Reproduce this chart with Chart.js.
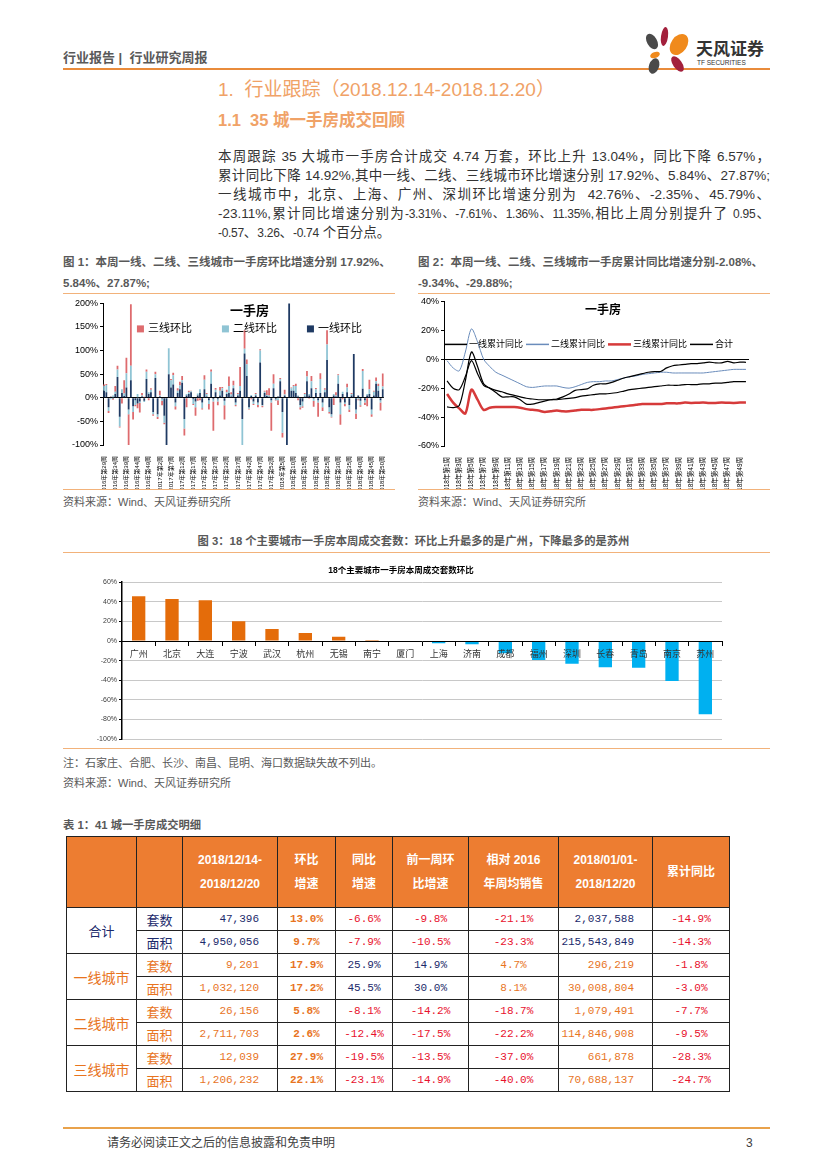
<!DOCTYPE html>
<html lang="zh-CN">
<head>
<meta charset="utf-8">
<title>行业研究周报</title>
<script src="https://cdn.jsdelivr.net/npm/chart.js@4.4.1/dist/chart.umd.min.js"></script>
<style>
  body { margin: 0; background: #fff; }
  #page { position: relative; width: 827px; height: 1169px; overflow: hidden; background: #fff;
          font-family: 'Liberation Sans', 'Noto Sans CJK SC', sans-serif; color: #404040; }
  .t { position: absolute; white-space: nowrap; line-height: 1; }
  .rule { position: absolute; height: 0; }
  .cap { font-size: 11.3px; font-weight: bold; color: #595959; }
  .cap2 { font-size: 11.5px; }
  .src { font-size: 11px; color: #595959; }
  .body { position: absolute; left: 218px; width: 552px; font-size: 13.5px; color: #333; line-height: 1; }
  .body div { position: absolute; left: 0; width: 552px; white-space: nowrap; text-align: justify; text-align-last: justify; }
  .n { font-size: 12px; letter-spacing: -0.3px; }
  canvas { position: absolute; }
  .petal { position: absolute; border-radius: 50%; }
  table { position: absolute; left: 66px; top: 836px; border-collapse: collapse; table-layout: fixed; }
  td, th { border: 1px solid #222; padding: 0; height: 22px; font-family: 'Liberation Mono', 'Noto Sans CJK SC', monospace; font-size: 11px; text-align: center; }
  th { background: #ED7D31; color: #fff; font-family: 'Liberation Sans', 'Noto Sans CJK SC', sans-serif; font-weight: bold; font-size: 12px; height: 70px; line-height: 24px; }
  td.r { text-align: right; padding-right: 18px; }
  td.lab { font-family: 'Noto Sans CJK SC', sans-serif; font-size: 14px; }
  td.k { font-family: 'Noto Sans CJK SC', sans-serif; font-size: 13px; }
  .nv { color: #1B2A6B; } .or { color: #E8741E; } .rd { color: #E8112D; } .b { font-weight: bold; }
</style>
</head>
<body>
<div id="page">
  <!-- header -->
  <div class="t" style="left:63px;top:51px;font-size:13px;font-weight:bold;color:#595959;">行业报告&nbsp;|&nbsp;&nbsp;行业研究周报</div>
  <div class="rule" style="left:63px;top:68px;width:707px;border-top:2px solid #E98B3B;"></div>
  <div class="petal" style="left:647px;top:33px;width:10px;height:17px;background:#4A4A4A;transform:rotate(-30deg);"></div>
  <div class="petal" style="left:661px;top:27px;width:7px;height:19px;background:#A3203C;transform:rotate(8deg);"></div>
  <div class="petal" style="left:671px;top:33px;width:16px;height:23px;background:#F08A1C;transform:rotate(35deg);"></div>
  <div class="petal" style="left:650px;top:52px;width:10px;height:6px;background:#F08A1C;transform:rotate(-20deg);"></div>
  <div class="petal" style="left:673px;top:55px;width:9px;height:18px;background:#A3203C;transform:rotate(-35deg);"></div>
  <div class="petal" style="left:649px;top:58px;width:10px;height:16px;background:#4A4A4A;transform:rotate(20deg);"></div>
  <div class="t" style="left:696px;top:39px;font-size:17px;font-weight:bold;color:#333;font-family:'Noto Sans CJK SC',sans-serif;">天风证券</div>
  <div class="t" style="left:697px;top:60px;font-size:6.5px;color:#333;">TF SECURITIES</div>

  <!-- headings -->
  <div class="t" style="left:218px;top:80px;font-size:19px;color:#F0A267;">1.&nbsp; 行业跟踪（2018.12.14-2018.12.20）</div>
  <div class="t" style="left:218px;top:112px;font-size:16.5px;font-weight:bold;color:#F0A267;">1.1&nbsp; 35 城一手房成交回顾</div>

  <div class="body" style="top:150px;">
    <div style="top:0px;">本周跟踪 35 大城市一手房合计成交 4.74 万套，环比上升 13.04%，同比下降 6.57%，</div>
    <div style="top:19px;">累计同比下降 14.92%,其中一线、二线、三线城市环比增速分别 17.92%、5.84%、27.87%;</div>
    <div style="top:38px;">一线城市中，北京、上海、广州、深圳环比增速分别为&nbsp; 42.76%、-2.35%、45.79%、</div>
    <div style="top:57px;">-23.11%,累计同比增速分别为<span class="n">-3.31%、-7.61%、1.36%、11.35%</span>,相比上周分别提升了 <span class="n">0.95</span>、</div>
    <div style="top:76px;text-align:left;text-align-last:left;"><span class="n">-0.57</span>、<span class="n">3.26</span>、<span class="n">-0.74</span> 个百分点。</div>
  </div>

  <!-- figure 1 & 2 captions -->
  <div class="t cap cap2" style="left:63px;top:257px;">图 1：本周一线、二线、三线城市一手房环比增速分别 17.92%、</div>
  <div class="t cap cap2" style="left:63px;top:278px;">5.84%、27.87%;</div>
  <div class="t cap cap2" style="left:418px;top:257px;">图 2：本周一线、二线、三线城市一手房累计同比增速分别-2.08%、</div>
  <div class="t cap cap2" style="left:418px;top:278px;">-9.34%、-29.88%;</div>
  <div class="rule" style="left:63px;top:293px;width:332px;border-top:1.5px solid #F2B27A;"></div>
  <div class="rule" style="left:418px;top:293px;width:352px;border-top:1.5px solid #F2B27A;"></div>
  <canvas id="c1" width="333" height="195" style="left:60px;top:296px;"></canvas>
  <canvas id="c2" width="345" height="197" style="left:412px;top:294px;"></canvas>
  <div class="rule" style="left:63px;top:489px;width:332px;border-top:1.5px solid #F2B27A;"></div>
  <div class="rule" style="left:418px;top:489px;width:352px;border-top:1.5px solid #F2B27A;"></div>
  <div class="t src" style="left:63px;top:497px;">资料来源：Wind、天风证券研究所</div>
  <div class="t src" style="left:418px;top:497px;">资料来源：Wind、天风证券研究所</div>

  <!-- figure 3 -->
  <div class="t cap" style="left:0;width:827px;top:536px;text-align:center;">图 3：18 个主要城市一手房本周成交套数：环比上升最多的是广州，下降最多的是苏州</div>
  <div class="rule" style="left:63px;top:552px;width:707px;border-top:1.5px solid #F2B27A;"></div>
  <canvas id="c3" width="700" height="187" style="left:63px;top:560px;"></canvas>
  <div class="rule" style="left:63px;top:748px;width:707px;border-top:1.5px solid #F2B27A;"></div>
  <div class="t src" style="left:63px;top:758px;">注：石家庄、合肥、长沙、南昌、昆明、海口数据缺失故不列出。</div>
  <div class="t src" style="left:63px;top:778px;">资料来源：Wind、天风证券研究所</div>

  <!-- table -->
  <div class="t cap" style="left:63px;top:820px;">表 1：41 城一手房成交明细</div>
  <table>
    <colgroup>
      <col style="width:70px"><col style="width:46px"><col style="width:95px"><col style="width:58px"><col style="width:57px">
      <col style="width:76px"><col style="width:90px"><col style="width:94px"><col style="width:77px">
    </colgroup>
    <tr><th></th><th></th><th>2018/12/14-<br>2018/12/20</th><th>环比<br>增速</th><th>同比<br>增速</th><th>前一周环<br>比增速</th><th>相对 2016<br>年周均销售</th><th>2018/01/01-<br>2018/12/20</th><th>累计同比</th></tr>
    <tr><td class="lab nv" rowspan="2" style="font-size:13px;">合计</td><td class="k nv">套数</td><td class="r nv">47,396</td><td class="or b">13.0%</td><td class="rd">-6.6%</td><td class="rd">-9.8%</td><td class="rd">-21.1%</td><td class="r nv">2,037,588</td><td class="rd">-14.9%</td></tr>
    <tr><td class="k nv">面积</td><td class="r nv">4,950,056</td><td class="or b">9.7%</td><td class="rd">-7.9%</td><td class="rd">-10.5%</td><td class="rd">-23.3%</td><td class="r nv">215,543,849</td><td class="rd">-14.3%</td></tr>
    <tr><td class="lab or" rowspan="2">一线城市</td><td class="k or">套数</td><td class="r or">9,201</td><td class="or b">17.9%</td><td class="nv">25.9%</td><td class="nv">14.9%</td><td class="or">4.7%</td><td class="r or">296,219</td><td class="rd">-1.8%</td></tr>
    <tr><td class="k or">面积</td><td class="r or">1,032,120</td><td class="or b">17.2%</td><td class="nv">45.5%</td><td class="nv">30.0%</td><td class="or">8.1%</td><td class="r or">30,008,804</td><td class="rd">-3.0%</td></tr>
    <tr><td class="lab or" rowspan="2">二线城市</td><td class="k or">套数</td><td class="r or">26,156</td><td class="or b">5.8%</td><td class="rd">-8.1%</td><td class="rd">-14.2%</td><td class="rd">-18.7%</td><td class="r or">1,079,491</td><td class="rd">-7.7%</td></tr>
    <tr><td class="k or">面积</td><td class="r or">2,711,703</td><td class="or b">2.6%</td><td class="rd">-12.4%</td><td class="rd">-17.5%</td><td class="rd">-22.2%</td><td class="r or">114,846,908</td><td class="rd">-9.5%</td></tr>
    <tr><td class="lab or" rowspan="2">三线城市</td><td class="k or">套数</td><td class="r or">12,039</td><td class="or b">27.9%</td><td class="rd">-19.5%</td><td class="rd">-13.5%</td><td class="rd">-37.0%</td><td class="r or">661,878</td><td class="rd">-28.3%</td></tr>
    <tr><td class="k or">面积</td><td class="r or">1,206,232</td><td class="or b">22.1%</td><td class="rd">-23.1%</td><td class="rd">-14.9%</td><td class="rd">-40.0%</td><td class="r or">70,688,137</td><td class="rd">-24.7%</td></tr>
  </table>

  <!-- footer -->
  <div class="rule" style="left:63px;top:1127px;width:707px;border-top:2px solid #E9A24B;"></div>
  <div class="t" style="left:107px;top:1137px;font-size:12px;color:#404040;">请务必阅读正文之后的信息披露和免责申明</div>
  <div class="t" style="left:746px;top:1137px;font-size:12px;color:#404040;">3</div>
</div>

<script>
// ---- 图1：一线/二线/三线城市一手房环比（周）----
const weeks1 = [
  '2016年第29周','2016年第30周','2016年第31周','2016年第32周','2016年第33周','2016年第34周','2016年第35周','2016年第36周',
  '2016年第37周','2016年第38周','2016年第39周','2016年第40周','2016年第41周','2016年第42周','2016年第43周','2016年第44周',
  '2016年第45周','2016年第46周','2016年第47周','2016年第48周','2016年第49周','2016年第50周','2016年第51周','2016年第52周',
  '2017年第1周','2017年第2周','2017年第3周','2017年第4周','2017年第5周','2017年第6周','2017年第7周','2017年第8周',
  '2017年第9周','2017年第10周','2017年第11周','2017年第12周','2017年第13周','2017年第14周','2017年第15周','2017年第16周',
  '2017年第17周','2017年第18周','2017年第19周','2017年第20周','2017年第21周','2017年第22周','2017年第23周','2017年第24周',
  '2017年第25周','2017年第26周','2017年第27周','2017年第28周','2017年第29周','2017年第30周','2017年第31周','2017年第32周',
  '2017年第33周','2017年第34周','2017年第35周','2017年第36周','2017年第37周','2017年第38周','2017年第39周','2017年第40周',
  '2017年第41周','2017年第42周','2017年第43周','2017年第44周','2017年第45周','2017年第46周','2017年第47周','2017年第48周',
  '2017年第49周','2017年第50周','2017年第51周','2017年第52周',
  '2018年第1周','2018年第2周','2018年第3周','2018年第4周','2018年第5周','2018年第6周','2018年第7周','2018年第8周',
  '2018年第9周','2018年第10周','2018年第11周','2018年第12周','2018年第13周','2018年第14周','2018年第15周','2018年第16周',
  '2018年第17周','2018年第18周','2018年第19周','2018年第20周','2018年第21周','2018年第22周','2018年第23周','2018年第24周',
  '2018年第25周','2018年第26周','2018年第27周','2018年第28周','2018年第29周','2018年第30周','2018年第31周','2018年第32周',
  '2018年第33周','2018年第34周','2018年第35周','2018年第36周','2018年第37周','2018年第38周','2018年第39周','2018年第40周',
  '2018年第41周','2018年第42周','2018年第43周','2018年第44周','2018年第45周','2018年第46周','2018年第47周','2018年第48周',
  '2018年第49周','2018年第50周'
];
const tier1Wow = [
  15,12,-20,2,-2,8,44,-40,10,4,
  22,-25,37,-18,-5,-12,-8,3,-6,40,
  8,12,-30,42,-35,3,-2,-38,-100,50,
  22,28,-10,10,18,32,-45,5,8,12,
  -3,-8,5,10,-10,18,3,-5,30,-3,
  12,-3,5,15,-6,8,10,3,20,-10,
  5,15,-45,94,46,-20,4,-8,5,-10,
  75,-15,10,4,2,-5,20,-3,3,35,
  -30,5,-100,250,15,15,10,3,-15,-8,
  3,35,5,20,-2,10,-5,10,-10,12,
  80,-20,-35,5,3,30,-10,8,-10,12,
  -15,5,93,-25,5,-6,19,-5,5,8,
  -25,5,30,15,-5,17.9
];
const tier2Wow = [
  10,15,-8,-3,5,5,16,-21,8,5,
  30,-10,31,-12,-10,8,-3,2,-3,15,
  4,5,-5,8,-5,2,-4,-15,0,55,
  15,20,-8,5,8,5,-20,3,4,2,
  -10,-12,4,8,-12,20,5,-8,25,-5,
  5,-5,10,5,-10,4,15,4,6,-5,
  3,10,-55,10,25,-3,2,-5,3,-5,
  25,-2,3,2,3,-5,10,-2,-5,5,
  -44,2,0,0,5,10,15,2,-5,-10,
  5,10,3,15,-5,8,-5,30,-10,5,
  33,-10,-5,3,2,18,-25,5,-3,10,
  -10,3,0,-8,-3,-10,38,-5,3,10,
  -10,8,5,10,-5,5.8
];
const tier3Wow = [
  3,2,-4,1,-2,12,8,-2,-12,28,
  33,-65,130,-16,-3,-10,-20,5,2,5,
  -5,3,-3,5,-5,10,-10,-3,0,0,
  3,5,-7,5,8,9,-15,-20,3,1,
  -2,-18,-6,-5,-3,10,2,-12,5,-62,
  4,-8,8,3,-30,5,20,5,10,-3,
  2,40,0,39,10,-2,-3,-2,2,-5,
  3,-3,2,10,15,-60,20,-1,-10,2,
  -10,10,0,0,2,2,5,-5,-5,-3,
  2,12,-2,11,-12,3,-30,12,-8,3,
  30,-3,-2,-15,7,2,-22,-3,-5,8,
  -5,2,0,-12,-2,-3,4,-5,-18,20,
  -5,2,8,5,-17,27.9
];

// ---- 图2：累计同比（2018年各周）----
const weeks2 = [
  '2018年第1周','2018年第2周','2018年第3周','2018年第4周','2018年第5周','2018年第6周','2018年第7周','2018年第8周',
  '2018年第9周','2018年第10周','2018年第11周','2018年第12周','2018年第13周','2018年第14周','2018年第15周','2018年第16周',
  '2018年第17周','2018年第18周','2018年第19周','2018年第20周','2018年第21周','2018年第22周','2018年第23周','2018年第24周',
  '2018年第25周','2018年第26周','2018年第27周','2018年第28周','2018年第29周','2018年第30周','2018年第31周','2018年第32周',
  '2018年第33周','2018年第34周','2018年第35周','2018年第36周','2018年第37周','2018年第38周','2018年第39周','2018年第40周',
  '2018年第41周','2018年第42周','2018年第43周','2018年第44周','2018年第45周','2018年第46周','2018年第47周','2018年第48周',
  '2018年第49周','2018年第50周'
];
const tier1Ytd = [
  -33,-33.5,-32,-15,5,-5,-17,-20,-23,-26,
  -26,-26,-28,-31,-31,-30,-29,-28,-27.5,-26,
  -24,-21.5,-21,-20.5,-18,-17,-17,-16,-14.5,-13,
  -12,-11,-10,-9,-8.5,-8.5,-6,-4.5,-4,-3.5,
  -3,-3,-2.5,-2,-2.5,-2.5,-1.5,-2.5,-2,-2.1
];
const tier2Ytd = [
  -1,-6,-8,5,21,12,0,-5,-9,-11,
  -13,-15,-17,-19,-19.5,-19,-18.5,-18.5,-18.5,-19.5,
  -20,-19,-17.5,-16,-15.5,-15.5,-15,-15,-14,-13,
  -12,-11.5,-10.5,-10,-9.5,-9,-9,-9.5,-9.5,-9.5,
  -9.5,-9.5,-9.5,-9,-8.5,-8,-7.5,-7,-7,-7
];
const tier3Ytd = [
  -24,-30,-34,-37.5,-21,-28,-35,-33.5,-33,-33,
  -33,-33,-33.5,-34.5,-35,-35.5,-36.5,-36,-35.5,-36,
  -36,-35.5,-35,-35,-35,-34.5,-34,-33.5,-33,-32.5,
  -32,-31.5,-31,-31,-31,-31,-30.5,-30.5,-30.5,-30,
  -30.2,-30.1,-30,-30.3,-30.2,-30,-30.1,-30.2,-30,-29.9
];
const totalYtd = [
  -15,-20,-21,-12,-1,-10,-18,-20,-21.5,-22.5,
  -24,-25,-26,-27,-27.5,-28,-28,-28,-28,-27.5,
  -27,-26.5,-25.5,-25,-24.5,-24,-24,-23.5,-23,-22,
  -21,-20.5,-20,-19.5,-19,-18.5,-18,-18,-18,-17.5,
  -17.5,-17.5,-17,-17,-16.5,-16.5,-16,-15.5,-15.5,-15.5
];

// ---- 图3：18个主要城市本周成交套数环比 ----
const cities = ['广州','北京','大连','宁波','武汉','杭州','无锡','南宁','厦门','上海','济南','成都','福州','深圳','长春','青岛','南京','苏州'];
const cityWow = [45.79, 42.76, 41.6, 20.1, 12.3, 8.2, 4.3, 0.9, 0.5, -2.35, -3.3, -12.5, -19.4, -23.11, -26.8, -27.2, -40.8, -74.8];

const FONT = "'Liberation Sans', 'Noto Sans CJK SC', sans-serif";
Chart.defaults.font.family = FONT;
Chart.defaults.color = '#000';

const zeroLine = c => (c.tick && c.tick.value === 0) ? '#000' : 'rgba(0,0,0,0)';

// legend drawn inside the plot area, in a single row, with a title above it
const areaLegend = {
  id: 'areaLegend',
  afterDatasetsDraw(chart, args, o) {
    const { ctx, chartArea: a } = chart;
    const cx = (a.left + a.right) / 2;
    ctx.save();
    ctx.textBaseline = 'middle';
    ctx.fillStyle = '#000';
    ctx.textAlign = 'center';
    ctx.font = 'bold ' + o.titleSize + 'px ' + FONT;
    ctx.fillText(o.title, cx + o.titleShift, a.top + o.titleY);
    ctx.textAlign = 'left';
    ctx.font = o.size + 'px ' + FONT;
    const items = o.reverse ? chart.data.datasets.slice().reverse() : chart.data.datasets;
    const widths = items.map(d => o.boxW + o.boxGap + ctx.measureText(d.label).width);
    const total = widths.reduce((s, w) => s + w, 0) + o.gap * (items.length - 1);
    let x = cx + o.itemsShift - total / 2;
    const y = a.top + o.itemsY;
    items.forEach((d, i) => {
      const h = o.boxH || Math.max(1.5, d.borderWidth);
      ctx.fillStyle = d.backgroundColor;
      ctx.fillRect(x, y - h / 2, o.boxW, h);
      ctx.fillStyle = '#000';
      ctx.fillText(d.label, x + o.boxW + o.boxGap, y + 0.5);
      x += widths[i] + o.gap;
    });
    ctx.restore();
  }
};

new Chart(document.getElementById('c1'), {
  type: 'bar',
  data: {
    labels: weeks1,
    datasets: [
      { label: '一线环比', data: tier1Wow, backgroundColor: '#1F3A63' },
      { label: '二线环比', data: tier2Wow, backgroundColor: '#8FC4D4' },
      { label: '三线环比', data: tier3Wow, backgroundColor: '#DE6B6E' }
    ]
  },
  plugins: [areaLegend],
  options: {
    responsive: false, animation: false,
    layout: { padding: { left: 3, right: 8, top: 6, bottom: 2 } },
    datasets: { bar: { barPercentage: 0.8, categoryPercentage: 1, borderWidth: 0 } },
    scales: {
      x: {
        stacked: true, grid: { display: false }, border: { display: false },
        ticks: { autoSkip: false, minRotation: 90, maxRotation: 90, padding: 3, font: { size: 6 },
                 callback: (v, i) => i % 5 === 0 ? weeks1[i] : '' },
        afterFit: s => { s.height = 44; }
      },
      y: {
        stacked: true, min: -100, max: 200,
        ticks: { stepSize: 50, font: { size: 9 }, padding: 2, callback: v => v + '%' },
        grid: { color: zeroLine, tickColor: '#000', tickLength: 3 },
        border: { color: '#000' },
        afterFit: s => { s.width = 40; }
      }
    },
    plugins: {
      tooltip: { enabled: false },
      legend: { display: false },
      areaLegend: { title: '一手房', titleSize: 13, titleY: 8.5, titleShift: 6,
                    size: 11, itemsY: 25.5, itemsShift: 6, boxW: 7, boxH: 7, boxGap: 4, gap: 30, reverse: true }
    }
  }
});

new Chart(document.getElementById('c2'), {
  type: 'line',
  data: {
    labels: weeks2,
    datasets: [
      { label: '一线累计同比', data: tier1Ytd, borderColor: '#000', backgroundColor: '#000', borderWidth: 1.2 },
      { label: '二线累计同比', data: tier2Ytd, borderColor: '#6A8CBB', backgroundColor: '#6A8CBB', borderWidth: 1 },
      { label: '三线累计同比', data: tier3Ytd, borderColor: '#D63A3A', backgroundColor: '#D63A3A', borderWidth: 2.5 },
      { label: '合计', data: totalYtd, borderColor: '#000', backgroundColor: '#000', borderWidth: 1.2 }
    ]
  },
  plugins: [areaLegend],
  options: {
    responsive: false, animation: false,
    layout: { padding: { left: 2, right: 8, top: 7, bottom: 2 } },
    elements: { point: { radius: 0 }, line: { tension: 0.3 } },
    scales: {
      x: {
        offset: true, grid: { display: false }, border: { display: false },
        ticks: { autoSkip: false, minRotation: 90, maxRotation: 90, padding: 3, font: { size: 6.5 },
                 callback: (v, i) => i % 2 === 0 ? weeks2[i] : '' },
        afterFit: s => { s.height = 43; }
      },
      y: {
        min: -60, max: 40,
        ticks: { stepSize: 20, font: { size: 9 }, padding: 2, callback: v => v + '%' },
        grid: { color: zeroLine, tickColor: '#000', tickLength: 3 },
        border: { color: '#000' },
        afterFit: s => { s.width = 30; }
      }
    },
    plugins: {
      tooltip: { enabled: false },
      legend: { display: false },
      areaLegend: { title: '一手房', titleSize: 12, titleY: 9.5, titleShift: 6.5,
                    size: 9, itemsY: 43, itemsShift: -8, boxW: 23, boxGap: 2, gap: 3, reverse: false }
    }
  }
});

new Chart(document.getElementById('c3'), {
  type: 'bar',
  data: {
    labels: cities,
    datasets: [{ label: '环比', data: cityWow,
      backgroundColor: c => c.raw >= 0 ? '#E46C0A' : '#00B0F0' }]
  },
  options: {
    responsive: false, animation: false,
    layout: { padding: { left: 17, right: 41, top: 0, bottom: 8 } },
    datasets: { bar: { barPercentage: 0.4, categoryPercentage: 1, borderWidth: 0 } },
    scales: {
      x: {
        position: { y: 0 },
        grid: { display: true, drawOnChartArea: false, drawTicks: true, tickLength: 4, color: '#000', z: 1 },
        border: { color: '#000', width: 1, z: 1 },
        ticks: { font: { size: 9 }, color: '#333', padding: 4, maxRotation: 0, z: 1 }
      },
      y: {
        min: -100, max: 60,
        ticks: { stepSize: 20, font: { size: 7 }, color: '#404040', padding: 2, callback: v => v + '%' },
        grid: { color: '#C8C8C8', tickColor: '#000', tickLength: 3 },
        border: { color: '#000', width: 1.5 },
        afterFit: s => { s.width = 42; }
      }
    },
    plugins: {
      tooltip: { enabled: false },
      legend: { display: false },
      title: { display: true, text: '18个主要城市一手房本周成交套数环比', font: { size: 8.5, weight: 'bold' },
               padding: { top: 6, bottom: 6 } }
    }
  }
});
</script>
</body>
</html>
